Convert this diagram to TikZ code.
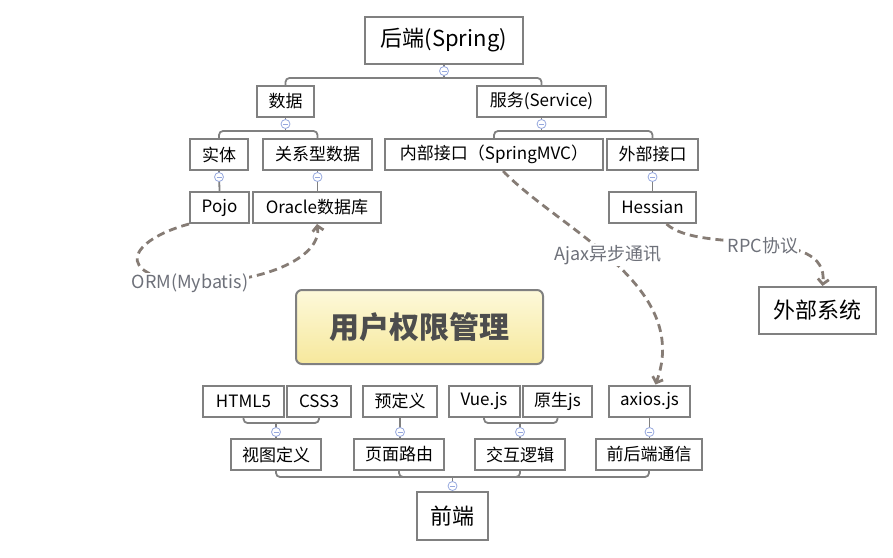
\documentclass[tikz,border=0pt]{standalone}
\usepackage{fontspec}
\setmainfont{Noto Sans CJK SC}
\usetikzlibrary{arrows.meta}
\definecolor{boxline}{RGB}{128,128,128}
\definecolor{connline}{RGB}{128,128,128}
\definecolor{knobc}{RGB}{150,168,222}
\definecolor{relc}{RGB}{134,124,117}
\definecolor{labelc}{RGB}{110,113,122}
\definecolor{titletop}{RGB}{253,249,218}
\definecolor{titlebot}{RGB}{246,232,156}
\definecolor{titletext}{RGB}{77,77,77}
\begin{document}
\begin{tikzpicture}[x=1pt,y=-1pt,
  box/.style={draw=boxline,line width=2pt,fill=white,inner sep=0pt,
    font=\fontsize{17}{19}\selectfont,text=black,minimum height=31pt},
  big/.style={box,font=\fontsize{22}{25}\selectfont},
  conn/.style={draw=connline,line width=1.8pt,rounded corners=4pt},
  knob/.style={circle,draw=knobc,fill=white,line width=0.8pt,minimum size=9pt,inner sep=0pt,
    path picture={\draw[knobc,line width=0.8pt] ([xshift=-2.5pt]path picture bounding box.center) -- ([xshift=2.5pt]path picture bounding box.center);}},
  rel/.style={draw=relc,line width=2.8pt,dash pattern=on 8pt off 5pt,
    -{Straight Barb[length=5pt,width=11pt]}},
  rellabel/.style={fill=white,text=labelc,inner sep=1pt,font=\fontsize{18}{20}\selectfont}]
\useasboundingbox (0,0) rectangle (893,557);

% ---------- back end tree ----------
\node[big,minimum width=158pt,minimum height=47pt] (root) at (444,40) {后端(Spring)};
\node[box,minimum width=57pt] (shuju) at (285.5,101.5) {数据};
\node[box,minimum width=129pt] (fuwu) at (541.5,101.5) {服务(Service)};
\node[box,minimum width=58pt] (shiti) at (219,154.5) {实体};
\node[box,minimum width=109pt] (guanxi) at (317.5,154.5) {关系型数据};
\node[box,minimum width=218pt] (neibu) at (494,154.5) {内部接口（SpringMVC）};
\node[box,minimum width=91pt] (waibu) at (652.5,154.5) {外部接口};
\node[box,minimum width=59pt] (pojo) at (219.5,207.5) {Pojo};
\node[box,minimum width=128pt] (oracle) at (317,207.5) {Oracle数据库};
\node[box,minimum width=87pt] (hessian) at (652.5,207.5) {Hessian};
\node[big,minimum width=117pt,minimum height=47pt] (waixt) at (817.5,310.5) {外部系统};

\coordinate (b1) at (444,78);
\draw[conn] (root.south) -- (b1);
\draw[conn] (shuju.north) |- (b1) -| (fuwu.north);
\node[knob] (k1) at (444,71) {};

\coordinate (b2) at (285.5,131);
\draw[conn] (shuju.south) -- (b2);
\draw[conn] (shiti.north) |- (b2) -| (guanxi.north);
\node[knob] (k2) at (285.5,124) {};

\coordinate (b3) at (541.5,131);
\draw[conn] (fuwu.south) -- (b3);
\draw[conn] (neibu.north) |- (b3) -| (waibu.north);
\node[knob] (k3) at (541.5,124) {};

\draw[conn] (shiti.south) -- (pojo.north);
\node[knob] (k4) at (219,177) {};
\draw[conn] (guanxi.south) -- (guanxi.south |- oracle.north);
\node[knob] (k5) at (317.5,177) {};
\draw[conn] (waibu.south) -- (hessian.north);
\node[knob] (k6) at (652.5,177) {};

% ---------- title ----------
\node[draw=boxline,line width=2pt,rounded corners=6pt,top color=titletop,bottom color=titlebot,
  minimum width=247pt,minimum height=74pt,inner sep=0pt,text=titletext,
  font=\fontsize{30}{34}\selectfont\bfseries] (title) at (419.5,327) {用户权限管理};

% ---------- front end tree ----------
\node[box,minimum width=81pt] (html) at (243.5,401) {HTML5};
\node[box,minimum width=64pt] (css) at (319,401) {CSS3};
\node[box,minimum width=74pt] (yudy) at (400,401) {预定义};
\node[box,minimum width=71pt] (vue) at (484,401) {Vue.js};
\node[box,minimum width=69pt] (ysjs) at (557.5,401) {原生js};
\node[box,minimum width=81pt] (axios) at (649.5,401) {axios.js};
\node[box,minimum width=90pt] (shitu) at (276,454.5) {视图定义};
\node[box,minimum width=90pt] (luyou) at (399,454.5) {页面路由};
\node[box,minimum width=90pt] (jiaohu) at (520,454.5) {交互逻辑};
\node[box,minimum width=106pt] (tongxin) at (649,454.5) {前后端通信};
\node[big,minimum width=71pt,minimum height=48pt] (qianduan) at (452.5,516) {前端};

\coordinate (c1) at (276,423);
\draw[conn] (shitu.north) -- (c1);
\draw[conn] (html.south) |- (c1) -| (css.south);
\node[knob] (q1) at (276,432) {};

\draw[conn] (yudy.south) -- (yudy.south |- luyou.north);
\node[knob] (q2) at (400,432) {};

\coordinate (c3) at (520,423);
\draw[conn] (jiaohu.north) -- (c3);
\draw[conn] (vue.south) |- (c3) -| (ysjs.south);
\node[knob] (q3) at (520,432) {};

\draw[conn] (axios.south) -- (axios.south |- tongxin.north);
\node[knob] (q4) at (649.5,432) {};

\coordinate (c5) at (452.5,477);
\draw[conn] (qianduan.north) -- (c5);
\draw[conn] (shitu.south) |- (c5) -| (tongxin.south);
\draw[conn] (luyou.south) |- (c5);
\draw[conn] (jiaohu.south) |- (c5);
\node[knob] (q5) at (452.5,486) {};

% ---------- relations ----------
\draw[rel] (pojo.south west) .. controls (130,240) and (110,275) .. (190,283)
  .. controls (270,283) and (322,255) .. (oracle.south);
\node[rellabel] (ormlab) at (190,283) {ORM(Mybatis)};

\draw[rel] ([xshift=9pt]neibu.south) .. controls (560,230) and (692,285) .. ([xshift=6pt]axios.north);
\node[rellabel] (ajaxlab) at (608,255) {Ajax异步通讯};

\draw[rel] ([xshift=14pt]hessian.south) .. controls (700,255) and (830,225) .. ([xshift=5pt]waixt.north);
\node[rellabel] (rpclab) at (763,246) {RPC协议};
\end{tikzpicture}
\end{document}
